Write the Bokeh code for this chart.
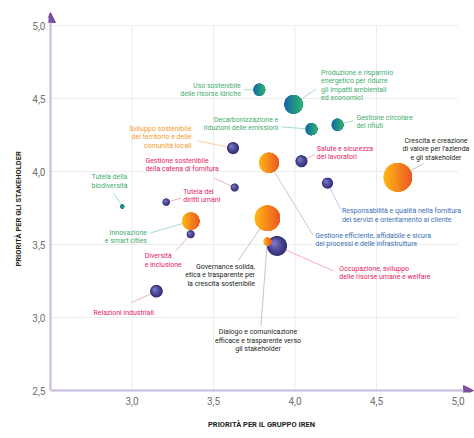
import numpy as np
from bokeh.plotting import figure
from bokeh.models import ColumnDataSource, FixedTicker, Arrow, NormalHead, Range1d
from bokeh.core.properties import value, field
from bokeh.embed import file_html
from bokeh.resources import INLINE

# ---------------- data ----------------
temi = [
    "Uso sostenibile\ndelle risorse idriche",
    "Produzione e risparmio\nenergetico per ridurre\ngli impatti ambientali\ned economici",
    "Decarbonizzazione e\nriduzioni delle emissioni",
    "Gestione circolare\ndei rifiuti",
    "Sviluppo sostenibile\ndel territorio e delle\ncomunità locali",
    "Salute e sicurezza\ndei lavoratori",
    "Crescita e creazione\ndi valore per l'azienda\ne gli stakeholder",
    "Gestione efficiente, affidabile e sicura\ndei processi e delle infrastrutture",
    "Responsabilità e qualità nella fornitura\ndei servizi e orientamento al cliente",
    "Gestione sostenibile\ndella catena di fornitura",
    "Tutela dei\ndiritti umani",
    "Tutela della\nbiodiversità",
    "Innovazione\ne smart cities",
    "Diversità\ne inclusione",
    "Relazioni industriali",
    "Governance solida,\netica e trasparente per\nla crescita sostenibile",
    "Occupazione, sviluppo\ndelle risorse umane e welfare",
    "Dialogo e comunicazione\nefficace e trasparente verso\ngli stakeholder",
]
priorita_gruppo = [3.78, 3.99, 4.10, 4.26, 3.62, 4.04, 4.63, 3.84, 4.20, 3.63,
                   3.21, 2.94, 3.36, 3.36, 3.15, 3.83, 3.89, 3.83]
priorita_stakeholder = [4.56, 4.46, 4.29, 4.32, 4.16, 4.07, 3.96, 4.06, 3.92, 3.89,
                        3.79, 3.76, 3.66, 3.57, 3.18, 3.68, 3.49, 3.52]
rilevanza = [6.0, 9.3, 6.0, 6.0, 6.0, 6.0, 14.3, 10.0, 5.5, 4.0,
             3.7, 2.0, 8.7, 4.0, 6.3, 12.7, 10.0, 4.0]
tipo_bolla = ["verde", "verde", "verde", "verde", "viola", "viola", "arancio", "arancio", "viola", "viola",
              "viola", "verde", "arancio", "viola", "viola", "arancio", "viola", "arancio"]
ambito = ["amb", "amb", "amb", "amb", "terr", "pers", "gov", "cli", "cli", "pers",
          "pers", "amb", "amb", "pers", "pers", "gov", "pers", "gov"]

x_ticks = [3.0, 3.5, 4.0, 4.5, 5.0]
x_tick_labels = ["3,0", "3,5", "4,0", "4,5", "5,0"]
y_ticks = [2.5, 3.0, 3.5, 4.0, 4.5, 5.0]
y_tick_labels = ["2,5", "3,0", "3,5", "4,0", "4,5", "5,0"]
titolo_x = "PRIORITÀ PER IL GRUPPO IREN"
titolo_y = "PRIORITÀ PER GLI STAKEHOLDER"

# ---------------- layout (screen px offsets) ----------------
lab_dx = [-18.3, 27.7, -33, 19, -41.7, 15.3, 38.3, 46.3, 14.3, -89.3,
          17, -12.7, -43.7, -46, -32.7, -12.3, 62.3, -9.3]
lab_dy = [0.2, -18.8, -5.3, -2.5, -10.8, -8.5, -28, 77.4, 32.2, -22.6,
          -6, -25, 15.7, 26.4, 21.6, 57.2, 26.8, 99]
lab_align = ["right", "left", "right", "left", "right", "left", "center", "left", "left", "left",
             "left", "center", "right", "left", "center", "right", "left", "center"]
lead_dx = [-15, 22.7, -30, 16, -35.7, 13.3, 26.3, 44.3, 13.3, -20.3,
           15, -8.7, -40.7, -15, -24.7, -29.3, 56.3, -6.3]
lead_dy = [0, -15.3, -2.3, -4, -7.3, -7, -13.7, 72.7, 26.7, -9.3,
           -4, -13.7, 12, 16.7, 11.3, 42.7, 25, 84]

TEXT_COL = {"amb": "#43ad6e", "terr": "#f39a2c", "pers": "#e6245e", "cli": "#3b6fb6", "gov": "#231f20"}
LINE_COL = {"amb": "#93d3ac", "terr": "#f9c48f", "pers": "#f29bb5", "cli": "#a9bfdf", "gov": "#b5b8bd"}
GRAD = {"arancio": ("#fdb515", "#ee5a24"), "verde": ("#1766a8", "#2bb36c")}
VIOLA = ("#35337a", "#7472c4")

SX = 163.0  # px per unit x
SY = 146.0  # px per unit y
X0 = 2.5 - 2 / SX
X1 = 2.5 + 424 / SX
Y0 = 2.5 - 2 / SY
Y1 = 2.5 + 380 / SY

p = figure(width=474, height=438, x_range=Range1d(X0, X1), y_range=Range1d(Y0, Y1),
           output_backend="svg", toolbar_location=None,
           min_border_left=48, min_border_right=0, min_border_top=10, min_border_bottom=46)
p.outline_line_color = None
p.xgrid.visible = False
p.ygrid.visible = False
p.background_fill_color = "white"
p.border_fill_color = "white"

for ax, ticks, labs, so in ((p.xaxis, x_ticks, x_tick_labels, 4), (p.yaxis, y_ticks, y_tick_labels, 3)):
    ax.ticker = FixedTicker(ticks=ticks)
    ax.major_label_overrides = {t: l for t, l in zip(ticks, labs)}
    ax.axis_line_color = None
    ax.major_tick_line_color = None
    ax.minor_tick_line_color = None
    ax.major_tick_out = 0
    ax.major_tick_in = 0
    ax.minor_tick_out = 0
    ax.minor_tick_in = 0
    ax.major_label_text_font = "Roboto"
    ax.major_label_text_font_size = "10px"
    ax.major_label_text_color = "#707070"
    ax.major_label_standoff = so
    ax.axis_label_text_font = "Roboto"
    ax.axis_label_text_font_style = "bold"
    ax.axis_label_text_font_size = "7.5px"
    ax.axis_label_text_color = "#231f20"

p.xaxis.axis_label = titolo_x
p.xaxis.axis_label_standoff = 12
p.yaxis.axis_label = titolo_y + "\u00a0" * 8
p.yaxis.axis_label_standoff = 6

# grid
gy = [t for t in y_ticks if t > 2.5]
gx = [t for t in x_ticks if t < 5.0]
p.segment(x0=[2.5] * len(gy), y0=gy, x1=[5.0] * len(gy), y1=gy,
          line_color="#ececec", line_width=1)
p.segment(x0=gx, y0=[2.5] * len(gx), x1=gx, y1=[5.0] * len(gx),
          line_color="#ececec", line_width=1)

# axes with arrows
AX_LINE = "#c8badb"
AX_HEAD = "#7e4f9f"
p.add_layout(Arrow(end=NormalHead(size=10, fill_color=AX_HEAD, line_color=AX_HEAD),
                   x_start=2.5, y_start=2.5, x_end=2.5, y_end=2.5 + 378 / SY,
                   line_color=AX_LINE, line_width=2))
p.add_layout(Arrow(end=NormalHead(size=10, fill_color=AX_HEAD, line_color=AX_HEAD),
                   x_start=2.5, y_start=2.5, x_end=2.5 + 423 / SX, y_end=2.5,
                   line_color=AX_LINE, line_width=2))

# leader lines
n = len(temi)
p.segment(x0=priorita_gruppo, y0=priorita_stakeholder,
          x1=[priorita_gruppo[i] + lead_dx[i] / SX for i in range(n)],
          y1=[priorita_stakeholder[i] - lead_dy[i] / SY for i in range(n)],
          line_color=[LINE_COL[a] for a in ambito], line_width=0.8)


def hex2rgb(h):
    h = h.lstrip("#")
    return [int(h[i:i + 2], 16) for i in (0, 2, 4)]


def lerp(c1, c2, t):
    a, b = hex2rgb(c1), hex2rgb(c2)
    return "#%02x%02x%02x" % tuple(int(round(a[k] + (b[k] - a[k]) * t)) for k in range(3))


# bubbles with simulated gradients
N = 12
xs_all, ys_all, fills = [], [], []
for i in range(n):
    cx, cy, r = priorita_gruppo[i], priorita_stakeholder[i], rilevanza[i]
    kind = tipo_bolla[i]
    if kind in GRAD:
        ca, cb = GRAD[kind]
        for k in range(N):
            s = -r + 2 * r * k / N
            a = np.arccos(np.clip(s / r, -1, 1))
            t = np.linspace(-a, a, 48)
            xs_all.append(list(cx + r * np.cos(t) / SX))
            ys_all.append(list(cy + r * np.sin(t) / SY))
            fills.append(lerp(ca, cb, k / (N - 1)))
    else:
        ca, cb = VIOLA
        t = np.linspace(0, 2 * np.pi, 48)
        for k in range(N):
            f = k / N
            rk = r * (1 - 0.85 * f)
            off = (r - rk) * 0.55
            ccx = cx - off * 0.7 / SX
            ccy = cy + off * 0.7 / SY
            xs_all.append(list(ccx + rk * np.cos(t) / SX))
            ys_all.append(list(ccy + rk * np.sin(t) / SY))
            fills.append(lerp(ca, cb, (f / 0.92) ** 1.3 if f < 0.92 else 1.0))

p.patches(xs=xs_all, ys=ys_all, fill_color=fills, line_color=None)

# labels
src = ColumnDataSource(dict(
    x=priorita_gruppo, y=priorita_stakeholder, text=temi,
    dx=lab_dx, dy=lab_dy, align=lab_align,
    color=[TEXT_COL[a] for a in ambito],
))
p.text(x="x", y="y", text="text", x_offset=field("dx"), y_offset=field("dy"),
       text_align=field("align"), text_color=field("color"), text_baseline="middle",
       text_font=value("Roboto"), text_font_size="7px", text_line_height=1.05, source=src)

open("out.html", "w").write(file_html(p, INLINE))
